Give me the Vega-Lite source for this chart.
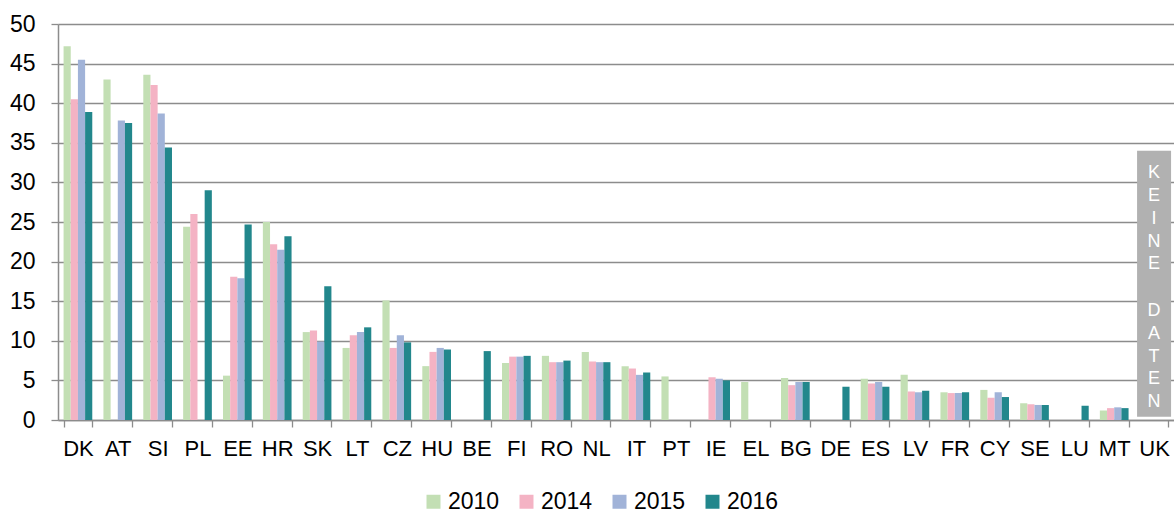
{
  "$schema": "https://vega.github.io/schema/vega-lite/v6.json",
  "width": 1116,
  "height": 396,
  "autosize": {"type": "none"},
  "padding": {"left": 58, "top": 24, "right": 0, "bottom": 89},
  "background": "white",
  "config": {
    "view": {"stroke": null},
    "font": "Liberation Sans",
    "axisX": {
      "labelAngle": 0,
      "labelFontSize": 22,
      "labelColor": "#000000",
      "labelPadding": 11,
      "tickBand": "extent",
      "tickSize": 7,
      "tickColor": "#8c8c8c",
      "tickWidth": 1.3,
      "domainColor": "#8c8c8c",
      "domainWidth": 1.5,
      "grid": false
    },
    "axisY": {
      "tickCount": 10,
      "labelFontSize": 23,
      "labelColor": "#000000",
      "labelPadding": 16,
      "tickSize": 7,
      "tickColor": "#8c8c8c",
      "tickWidth": 1.3,
      "domainColor": "#8c8c8c",
      "domainWidth": 1.5,
      "grid": true,
      "gridColor": "#8c8c8c",
      "gridWidth": 1.3
    }
  },
  "datasets": {
    "values": [
      {"country": "DK", "year": "2010", "value": 47.2},
      {"country": "DK", "year": "2014", "value": 40.5},
      {"country": "DK", "year": "2015", "value": 45.5},
      {"country": "DK", "year": "2016", "value": 38.9},
      {"country": "AT", "year": "2010", "value": 43.0},
      {"country": "AT", "year": "2015", "value": 37.8},
      {"country": "AT", "year": "2016", "value": 37.5},
      {"country": "SI", "year": "2010", "value": 43.6},
      {"country": "SI", "year": "2014", "value": 42.3},
      {"country": "SI", "year": "2015", "value": 38.7},
      {"country": "SI", "year": "2016", "value": 34.4},
      {"country": "PL", "year": "2010", "value": 24.4},
      {"country": "PL", "year": "2014", "value": 26.0},
      {"country": "PL", "year": "2016", "value": 29.0},
      {"country": "EE", "year": "2010", "value": 5.6},
      {"country": "EE", "year": "2014", "value": 18.1},
      {"country": "EE", "year": "2015", "value": 17.9},
      {"country": "EE", "year": "2016", "value": 24.7},
      {"country": "HR", "year": "2010", "value": 25.0},
      {"country": "HR", "year": "2014", "value": 22.2},
      {"country": "HR", "year": "2015", "value": 21.5},
      {"country": "HR", "year": "2016", "value": 23.2},
      {"country": "SK", "year": "2010", "value": 11.1},
      {"country": "SK", "year": "2014", "value": 11.3},
      {"country": "SK", "year": "2015", "value": 9.9},
      {"country": "SK", "year": "2016", "value": 16.9},
      {"country": "LT", "year": "2010", "value": 9.1},
      {"country": "LT", "year": "2014", "value": 10.7},
      {"country": "LT", "year": "2015", "value": 11.1},
      {"country": "LT", "year": "2016", "value": 11.7},
      {"country": "CZ", "year": "2010", "value": 15.1},
      {"country": "CZ", "year": "2014", "value": 9.1},
      {"country": "CZ", "year": "2015", "value": 10.7},
      {"country": "CZ", "year": "2016", "value": 9.8},
      {"country": "HU", "year": "2010", "value": 6.8},
      {"country": "HU", "year": "2014", "value": 8.6},
      {"country": "HU", "year": "2015", "value": 9.1},
      {"country": "HU", "year": "2016", "value": 8.9},
      {"country": "BE", "year": "2016", "value": 8.7},
      {"country": "FI", "year": "2010", "value": 7.2},
      {"country": "FI", "year": "2014", "value": 8.0},
      {"country": "FI", "year": "2015", "value": 8.0},
      {"country": "FI", "year": "2016", "value": 8.1},
      {"country": "RO", "year": "2010", "value": 8.1},
      {"country": "RO", "year": "2014", "value": 7.3},
      {"country": "RO", "year": "2015", "value": 7.3},
      {"country": "RO", "year": "2016", "value": 7.5},
      {"country": "NL", "year": "2010", "value": 8.6},
      {"country": "NL", "year": "2014", "value": 7.4},
      {"country": "NL", "year": "2015", "value": 7.3},
      {"country": "NL", "year": "2016", "value": 7.3},
      {"country": "IT", "year": "2010", "value": 6.8},
      {"country": "IT", "year": "2014", "value": 6.5},
      {"country": "IT", "year": "2015", "value": 5.7},
      {"country": "IT", "year": "2016", "value": 6.0},
      {"country": "PT", "year": "2010", "value": 5.5},
      {"country": "IE", "year": "2014", "value": 5.4},
      {"country": "IE", "year": "2015", "value": 5.2},
      {"country": "IE", "year": "2016", "value": 5.0},
      {"country": "EL", "year": "2010", "value": 4.8},
      {"country": "BG", "year": "2010", "value": 5.3},
      {"country": "BG", "year": "2014", "value": 4.4},
      {"country": "BG", "year": "2015", "value": 4.8},
      {"country": "BG", "year": "2016", "value": 4.8},
      {"country": "DE", "year": "2016", "value": 4.2},
      {"country": "ES", "year": "2010", "value": 5.2},
      {"country": "ES", "year": "2014", "value": 4.6},
      {"country": "ES", "year": "2015", "value": 4.8},
      {"country": "ES", "year": "2016", "value": 4.2},
      {"country": "LV", "year": "2010", "value": 5.7},
      {"country": "LV", "year": "2014", "value": 3.6},
      {"country": "LV", "year": "2015", "value": 3.5},
      {"country": "LV", "year": "2016", "value": 3.7},
      {"country": "FR", "year": "2010", "value": 3.5},
      {"country": "FR", "year": "2014", "value": 3.4},
      {"country": "FR", "year": "2015", "value": 3.4},
      {"country": "FR", "year": "2016", "value": 3.5},
      {"country": "CY", "year": "2010", "value": 3.8},
      {"country": "CY", "year": "2014", "value": 2.8},
      {"country": "CY", "year": "2015", "value": 3.5},
      {"country": "CY", "year": "2016", "value": 2.9},
      {"country": "SE", "year": "2010", "value": 2.1},
      {"country": "SE", "year": "2014", "value": 2.0},
      {"country": "SE", "year": "2015", "value": 1.9},
      {"country": "SE", "year": "2016", "value": 1.9},
      {"country": "LU", "year": "2016", "value": 1.8},
      {"country": "MT", "year": "2010", "value": 1.2},
      {"country": "MT", "year": "2014", "value": 1.5},
      {"country": "MT", "year": "2015", "value": 1.6},
      {"country": "MT", "year": "2016", "value": 1.5}
    ],
    "note": [
      {"country": "UK", "part": 1, "label": "K\nE\nI\nN\nE"},
      {"country": "UK", "part": 2, "label": "D\nA\nT\nE\nN"}
    ]
  },
  "layer": [
    {
      "data": {"name": "values"},
      "mark": {"type": "bar"},
      "encoding": {
        "x": {
          "field": "country",
          "type": "nominal",
          "title": null,
          "scale": {
            "domain": ["DK","AT","SI","PL","EE","HR","SK","LT","CZ","HU","BE","FI","RO","NL","IT","PT","IE","EL","BG","DE","ES","LV","FR","CY","SE","LU","MT","UK"],
            "paddingInner": 0.28,
            "paddingOuter": 0.14
          }
        },
        "xOffset": {
          "field": "year",
          "type": "nominal",
          "scale": {"domain": ["2010","2014","2015","2016"], "paddingInner": 0, "paddingOuter": 0}
        },
        "y": {
          "field": "value",
          "type": "quantitative",
          "title": null,
          "scale": {"domain": [0, 50], "nice": false}
        },
        "color": {
          "field": "year",
          "type": "nominal",
          "scale": {"domain": ["2010","2014","2015","2016"], "range": ["#c3dfb4","#f4b3c4","#a1b3d8","#22878c"]},
          "legend": {
            "title": null,
            "orient": "none",
            "direction": "horizontal",
            "columns": 4,
            "legendX": 364,
            "legendY": 466,
            "symbolType": "square",
            "symbolSize": 196,
            "symbolStrokeWidth": 0,
            "symbolOpacity": 1,
            "labelFontSize": 23,
            "labelColor": "#000000",
            "labelOffset": 3,
            "labelLimit": 0,
            "columnPadding": 15
          }
        }
      }
    },
    {
      "data": {"name": "note"},
      "transform": [{"filter": "datum.part == 1"}],
      "mark": {"type": "bar", "width": 34, "color": "#b1b1b1"},
      "encoding": {
        "x": {"field": "country", "type": "nominal", "title": null},
        "y": {"datum": 34, "type": "quantitative", "title": null},
        "y2": {"datum": 0.4}
      }
    },
    {
      "data": {"name": "note"},
      "transform": [{"filter": "datum.part == 1"}],
      "mark": {"type": "text", "color": "#ffffff", "fontSize": 18, "lineBreak": "\n", "lineHeight": 22.9, "baseline": "middle", "align": "center"},
      "encoding": {
        "x": {"field": "country", "type": "nominal", "title": null},
        "y": {"datum": 31.2, "type": "quantitative", "title": null},
        "text": {"field": "label"}
      }
    },
    {
      "data": {"name": "note"},
      "transform": [{"filter": "datum.part == 2"}],
      "mark": {"type": "text", "color": "#ffffff", "fontSize": 18, "lineBreak": "\n", "lineHeight": 22.9, "baseline": "middle", "align": "center"},
      "encoding": {
        "x": {"field": "country", "type": "nominal", "title": null},
        "y": {"datum": 13.8, "type": "quantitative", "title": null},
        "text": {"field": "label"}
      }
    }
  ]
}
